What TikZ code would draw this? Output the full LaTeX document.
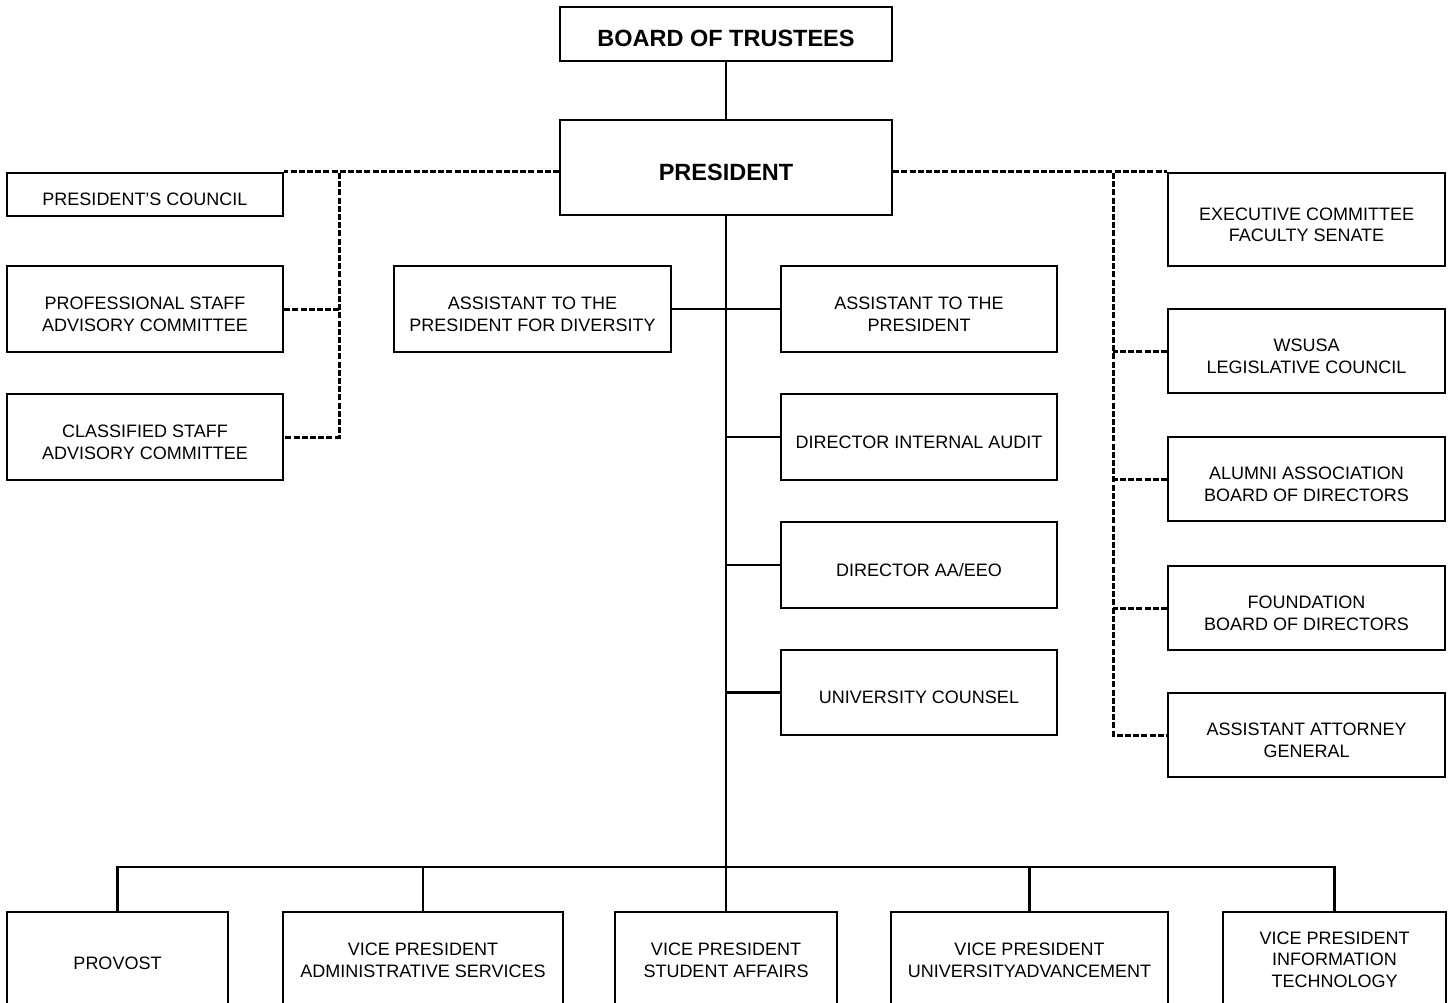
\documentclass[tikz,border=0pt]{standalone}
\usepackage{fontspec}
\setmainfont{Liberation Sans}
\newcommand{\fls}{\rule{0pt}{23pt}}
\newcommand{\flv}{\rule{0pt}{17pt}}
\newcommand{\flb}{\rule{0pt}{26pt}}
\begin{document}
\begin{tikzpicture}[x=1pt,y=-1pt,
  box/.style={draw, line width=2.2pt, rectangle, inner sep=0pt, align=center,
    font=\fontsize{18}{21.7}\selectfont},
  bigbox/.style={box, font=\fontsize{23.5}{28}\selectfont\bfseries},
  solidline/.style={line width=2.2pt},
  dashline/.style={line width=3pt, dash pattern=on 6pt off 2.2pt}]
\useasboundingbox (0,0) rectangle (1453,1002);
% top
\node[bigbox, minimum width=332pt, minimum height=54pt] (bot) at (726,34) {\flb BOARD OF TRUSTEES};
\node[bigbox, minimum width=332pt, minimum height=95pt] (pres) at (726,167.5) {\flb PRESIDENT};
% left
\node[box, minimum width=276pt, minimum height=43pt] (pc) at (145,194.5) {\fls PRESIDENT’S COUNCIL};
\node[box, minimum width=276pt, minimum height=86pt] (psac) at (145,309) {\fls PROFESSIONAL STAFF\\ADVISORY COMMITTEE};
\node[box, minimum width=276pt, minimum height=86pt] (csac) at (145,437) {\fls CLASSIFIED STAFF\\ADVISORY COMMITTEE};
% middle
\node[box, minimum width=277pt, minimum height=86pt] (apd) at (532.5,309) {\fls ASSISTANT TO THE\\PRESIDENT FOR DIVERSITY};
\node[box, minimum width=276pt, minimum height=86pt] (atp) at (919,309) {\fls ASSISTANT TO THE\\PRESIDENT};
\node[box, minimum width=276pt, minimum height=86pt] (dia) at (919,437) {\fls DIRECTOR INTERNAL AUDIT};
\node[box, minimum width=276pt, minimum height=86pt] (daa) at (919,565) {\fls DIRECTOR AA/EEO};
\node[box, minimum width=276pt, minimum height=85pt] (uc) at (919,692.5) {\fls UNIVERSITY COUNSEL};
% right
\node[box, minimum width=277pt, minimum height=93pt] (exec) at (1306.5,219.5) {\fls EXECUTIVE COMMITTEE\\FACULTY SENATE};
\node[box, minimum width=277pt, minimum height=84pt] (wsusa) at (1306.5,351) {\fls WSUSA\\LEGISLATIVE COUNCIL};
\node[box, minimum width=277pt, minimum height=84pt] (alumni) at (1306.5,479) {\fls ALUMNI ASSOCIATION\\BOARD OF DIRECTORS};
\node[box, minimum width=277pt, minimum height=84pt] (found) at (1306.5,608) {\fls FOUNDATION\\BOARD OF DIRECTORS};
\node[box, minimum width=277pt, minimum height=84pt] (aag) at (1306.5,735) {\fls ASSISTANT ATTORNEY\\GENERAL};
% bottom
\node[box, minimum width=221pt, minimum height=92pt] (provost) at (117.5,958) {\fls PROVOST};
\node[box, minimum width=280pt, minimum height=92pt] (vpas) at (423,958) {\flv VICE PRESIDENT\\ADMINISTRATIVE SERVICES};
\node[box, minimum width=222pt, minimum height=92pt] (vpsa) at (726,958) {\flv VICE PRESIDENT\\STUDENT AFFAIRS};
\node[box, minimum width=277pt, minimum height=92pt] (vpua) at (1029.5,958) {\flv VICE PRESIDENT\\UNIVERSITYADVANCEMENT};
\node[box, minimum width=223pt, minimum height=92pt] (vpit) at (1334.5,958) {\rule{0pt}{16pt}VICE PRESIDENT\\INFORMATION\\TECHNOLOGY};
% coordinates
\coordinate (bus) at (726,867);
\coordinate (lb) at (339,173);
\coordinate (rb) at (1113,173);
% solid connectors
\draw[solidline] (bot.south) -- (pres.north);
\draw[solidline] (pres.south) -- (vpsa.north);
\draw[solidline] (apd.east) -- (atp.west);
\draw[solidline] (dia.west) -- (dia.west -| pres.south);
\draw[solidline] (daa.west) -- (daa.west -| pres.south);
\draw[solidline] (uc.west) -- (uc.west -| pres.south);
\draw[solidline] (provost.north) -- (provost.north |- bus) -- (vpit.north |- bus) -- (vpit.north);
\draw[solidline] (vpas.north) -- (vpas.north |- bus);
\draw[solidline] (vpua.north) -- (vpua.north |- bus);
% dashed left
\draw[dashline] (pres.west |- pc.north) -- (pc.north east);
\draw[dashline] (lb) |- (csac.east);
\draw[dashline] (psac.east) -- (psac.east -| lb);
% dashed right
\draw[dashline] (pres.east |- exec.north) -- (exec.north west);
\draw[dashline] (rb) |- (aag.west);
\draw[dashline] (wsusa.west) -- (wsusa.west -| rb);
\draw[dashline] (alumni.west) -- (alumni.west -| rb);
\draw[dashline] (found.west) -- (found.west -| rb);
\end{tikzpicture}
\end{document}
